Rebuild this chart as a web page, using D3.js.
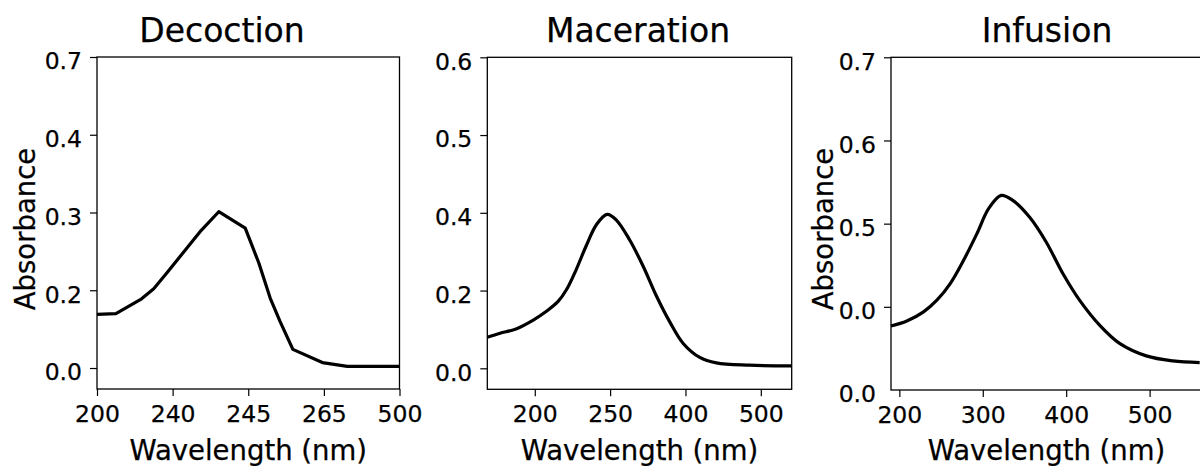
<!DOCTYPE html>
<meta charset="utf-8">
<style>
body { margin: 0; background: #fff; }
svg text { font-family: "DejaVu Sans", sans-serif; fill: #000; stroke: #000; stroke-width: 0.25px; }
.tick text { font-size: 23.5px; }
.tick line { stroke: #000; stroke-width: 1.2px; }
.frame { fill: none; stroke: #000; stroke-width: 1.3px; }
.curve { fill: none; stroke: #000; stroke-width: 3.2px; stroke-linejoin: round; }
</style>
<svg width="1200" height="466"></svg>
<script src="https://d3js.org/d3.v7.min.js"></script>
<script>

// x and y are in "tick units": tick i sits at position i, labels come from the lists below
var decoX = [0.0, 0.25, 0.59, 0.75, 0.92, 1.12, 1.36, 1.61, 1.96, 2.14, 2.29, 2.42, 2.59, 2.98, 3.31, 4.0];
var decoY = [0.69, 0.70, 0.89, 1.02, 1.22, 1.46, 1.75, 2.01, 1.80, 1.35, 0.90, 0.60, 0.24, 0.07, 0.02, 0.02];
var decoXTicks = ["200", "240", "245", "265", "500"];
var decoYTicks = ["0.0", "0.2", "0.3", "0.4", "0.7"];

var macerX = [-0.63, -0.46, -0.24, -0.02, 0.15, 0.31, 0.42, 0.55, 0.68, 0.82, 0.96, 1.08, 1.26, 1.44, 1.61, 1.79, 1.97, 2.19, 2.41, 2.85, 3.41];
var macerY = [0.40, 0.45, 0.51, 0.62, 0.73, 0.86, 1.01, 1.27, 1.57, 1.85, 1.98, 1.91, 1.65, 1.31, 0.94, 0.60, 0.32, 0.14, 0.07, 0.04, 0.03];
var macerXTicks = ["200", "250", "400", "500"];
var macerYTicks = ["0.0", "0.2", "0.4", "0.5", "0.6"];

var infuX = [-0.10, 0.09, 0.29, 0.45, 0.61, 0.77, 0.93, 1.07, 1.22, 1.36, 1.56, 1.76, 1.96, 2.16, 2.40, 2.64, 2.96, 3.28, 3.60];
var infuY = [0.77, 0.83, 0.94, 1.08, 1.28, 1.56, 1.88, 2.18, 2.34, 2.28, 2.08, 1.78, 1.40, 1.08, 0.78, 0.56, 0.41, 0.35, 0.33];
var infuXTicks = ["200", "300", "400", "500"];
var infuYTicks = ["0.0", "0.0", "0.5", "0.6", "0.7"];

var panels = [
  {title: "Decoction", xs: decoX, ys: decoY, xt: decoXTicks, yt: decoYTicks,
   xdom: [0, 4], xr: [97, 399.5], ydom: [-0.27, 4], yr: [389, 57],
   curve: d3.curveLinear, titleX: 222, ylab: 35, noTick: -1},
  {title: "Maceration", xs: macerX, ys: macerY, xt: macerXTicks, yt: macerYTicks,
   xdom: [-0.63, 3.41], xr: [487.3, 791.7], ydom: [-0.27, 4], yr: [389.3, 57.3],
   curve: d3.curveCatmullRom.alpha(0.5), titleX: 638, ylab: null, noTick: -1},
  {title: "Infusion", xs: infuX, ys: infuY, xt: infuXTicks, yt: infuYTicks,
   xdom: [-0.1, 3.64], xr: [891, 1203], ydom: [0, 4], yr: [390, 57.3],
   curve: d3.curveCatmullRom.alpha(0.5), titleX: 1047, ylab: 833, noTick: 0}
];

var svg = d3.select("svg");

panels.forEach(function(p) {
  var x = d3.scaleLinear().domain(p.xdom).range(p.xr);
  var y = d3.scaleLinear().domain(p.ydom).range(p.yr);
  var g = svg.append("g");

  var xa = g.append("g")
    .attr("transform", "translate(0," + p.yr[0] + ")")
    .call(d3.axisBottom(x)
      .tickValues(d3.range(p.xt.length))
      .tickFormat(function(d, i) { return p.xt[i]; })
      .tickSize(7).tickSizeOuter(0).tickPadding(9.3));
  xa.select(".domain").remove();

  var ya = g.append("g")
    .attr("transform", "translate(" + p.xr[0] + ",0)")
    .call(d3.axisLeft(y)
      .tickValues(d3.range(p.yt.length))
      .tickFormat(function(d, i) { return p.yt[i]; })
      .tickSize(7).tickSizeOuter(0).tickPadding(8));
  ya.select(".domain").remove();
  ya.selectAll(".tick line").filter(function(d) { return d === p.noTick; }).remove();
  ya.selectAll(".tick text").attr("dy", "0.5em");

  g.append("rect").attr("class", "frame")
    .attr("x", p.xr[0]).attr("y", p.yr[1])
    .attr("width", p.xr[1] - p.xr[0]).attr("height", p.yr[0] - p.yr[1]);

  var line = d3.line()
    .x(function(d, i) { return x(p.xs[i]); })
    .y(function(d, i) { return y(p.ys[i]); })
    .curve(p.curve);
  g.append("path").attr("class", "curve").attr("d", line(p.xs));

  g.append("text")
    .attr("x", p.titleX).attr("y", 42)
    .attr("text-anchor", "middle")
    .style("font-size", "33px")
    .text(p.title);

  g.append("text")
    .attr("x", (p.xr[0] + Math.min(p.xr[1], 1200)) / 2 + (p.title == "Infusion" ? 1 : 0)).attr("y", 460)
    .attr("text-anchor", "middle")
    .style("font-size", "27.5px")
    .text("Wavelength (nm)");

  if (p.ylab !== null) {
    g.append("text")
      .attr("transform", "translate(" + p.ylab + ",229) rotate(-90)")
      .attr("text-anchor", "middle")
      .style("font-size", "27.5px")
      .text("Absorbance");
  }
});

</script>
